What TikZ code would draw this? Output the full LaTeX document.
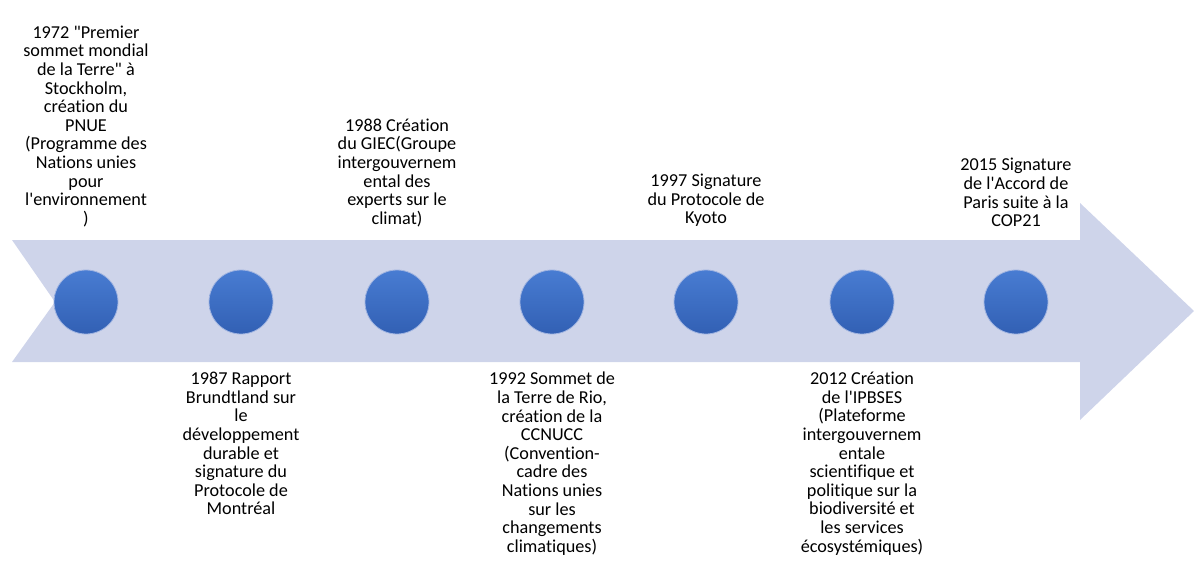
\documentclass[tikz,border=0pt]{standalone}
\usepackage{fontspec}
\setmainfont{Carlito}[Ligatures={TeXOff,NoCommon}]
\usepackage{tikz}
\usetikzlibrary{positioning}
\definecolor{bandfill}{RGB}{206,212,234}
\definecolor{dottop}{RGB}{72,124,210}
\definecolor{dotbot}{RGB}{50,96,180}
\definecolor{dotrim}{RGB}{160,180,225}

\begin{document}
\begin{tikzpicture}[
    x=1pt, y=-1pt,
    event/.style = {align=center, inner sep=0pt,
                    font=\fontsize{18.2}{18.6}\selectfont},
    dot/.style   = {circle, minimum size=64pt, inner sep=0pt,
                    top color=dottop, bottom color=dotbot,
                    draw=dotrim, line width=0.8pt},
]
\useasboundingbox (0,0) rectangle (1194,565);
% timeline band with notched tail and head
\fill[bandfill] (12,240) -- (1080,240) -- (1080,203) -- (1194,311)
    -- (1080,420) -- (1080,362) -- (12,362) -- (55,302) -- cycle;
% the dots
\node[dot] (d72) at (86,302)   {};
\node[dot] (d87) at (241,302)  {};
\node[dot] (d88) at (397,302)  {};
\node[dot] (d92) at (552,302)  {};
\node[dot] (d97) at (706,302)  {};
\node[dot] (d12) at (862,302)  {};
\node[dot] (d15) at (1016,302) {};
% texts above
\node[event, anchor=south] (t72) at (86,227)
    {1972 "Premier\\sommet mondial\\de la Terre" à\\Stockholm,\\création du\\PNUE\\(Programme des\\Nations unies\\pour\\l'environnement\\)};
\node[event, anchor=south] (t88) at (397,227)
    {1988 Création\\du GIEC(Groupe\\intergouvernem\\ental des\\experts sur le\\climat)};
\node[event, anchor=south] (t97) at (706,227)
    {1997 Signature\\du Protocole de\\Kyoto};
\node[event, anchor=south] (t15) at (1016,227)
    {2015 Signature\\de l'Accord de\\Paris suite à la\\COP21};
% texts below
\node[event, anchor=north] (t87) at (241,372)
    {1987 Rapport\\Brundtland sur\\le\\développement\\durable et\\signature du\\Protocole de\\Montréal};
\node[event, anchor=north] (t92) at (552,372)
    {1992 Sommet de\\la Terre de Rio,\\création de la\\CCNUCC\\(Convention-\\cadre des\\Nations unies\\sur les\\changements\\climatiques)};
\node[event, anchor=north] (t12) at (862,372)
    {2012 Création\\de l'IPBSES\\(Plateforme\\intergouvernem\\entale\\scientifique et\\politique sur la\\biodiversité et\\les services\\écosystémiques)};
\end{tikzpicture}
\end{document}
